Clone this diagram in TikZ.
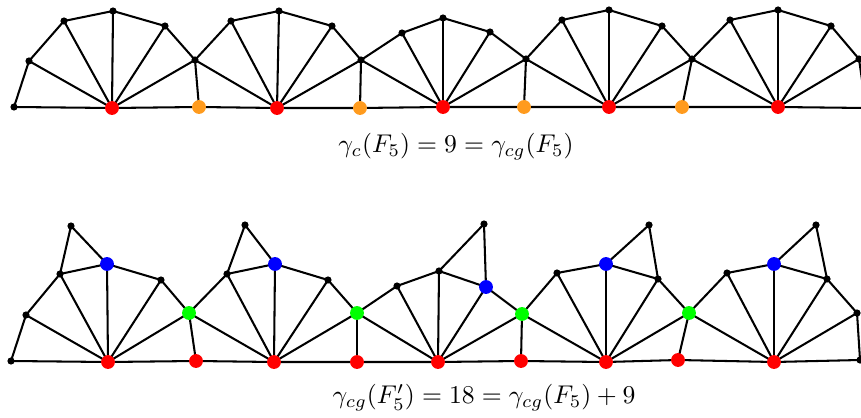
\documentclass[tikz,border=0pt]{standalone}
\usetikzlibrary{backgrounds}
\definecolor{myred}{RGB}{255,0,0}
\definecolor{myorange}{RGB}{255,155,30}
\definecolor{mygreen}{RGB}{0,255,0}
\definecolor{myblue}{RGB}{0,0,255}
\begin{document}
\begin{tikzpicture}[x=0.39pt,y=-0.39pt,
  bdot/.style={circle,fill=black,inner sep=0pt,minimum size=2.8pt},
  cdot/.style={circle,fill=#1,inner sep=0pt,minimum size=5.4pt},
  edge/.style={line width=0.8pt,black}]
\useasboundingbox (0,0) rectangle (861,417);
\clip (0,0) rectangle (861,417);
% ---------- top graph ----------
\foreach \n/\x/\y in {a0/14/107,a1/29/61,a2/64/21,a3/113/11,a4/165/26,j1/195/60,
  b1/231/21,b2/279/11,b3/332/26,j2/361/60,c1/402/33,c2/443/18,c3/490/32,j3/526/59,
  d1/562/20,d2/609/10,d3/662/26,j4/692/59,e1/730/20,e2/778/10,e3/831/26,j5/859/59,z/866/108}
  \node[bdot] (\n) at (\x,\y) {};
\foreach \n/\x/\y in {r1/112/108,r2/277/108,r3/443/107,r4/609/107,r5/778/107}
  \node[cdot=myred] (\n) at (\x,\y) {};
\foreach \n/\x/\y in {o1/199/107,o2/360/108,o3/524/107,o4/682/107}
  \node[cdot=myorange] (\n) at (\x,\y) {};
% ---------- bottom graph ----------
\foreach \n/\x/\y in {A0/11/361,A1/26/315,A2/60/274,AX/71/226,A4/161/280,
  B1/227/274,BX/245/225,B3/328/280,C1/397/286,C2/439/271,CX/484/224,
  D1/557/273,DX/649/225,D3/658/279,E1/727/273,EX/816/225,E3/827/279,E4/857/313,Z/860/360}
  \node[bdot] (\n) at (\x,\y) {};
\foreach \n/\x/\y in {AB/107/264,BB/275/264,CB/486/287,DB/606/264,EB/774/264}
  \node[cdot=myblue] (\n) at (\x,\y) {};
\foreach \n/\x/\y in {G1/189/313,G2/357/313,G3/522/314,G4/689/313}
  \node[cdot=mygreen] (\n) at (\x,\y) {};
\foreach \n/\x/\y in {R1/108/362,R2/274/362,R3/438/362,R4/606/362,R5/774/362,
  Q1/196/361,Q2/357/362,Q3/521/361,Q4/678/360}
  \node[cdot=myred] (\n) at (\x,\y) {};
% ---------- labels ----------
\node (t1) at (456,147) {$\gamma_c(F_5)=9=\gamma_{cg}(F_5)$};
\node (t2) at (484,398) {$\gamma_{cg}(F'_5)=18=\gamma_{cg}(F_5)+9$};
% ---------- edges ----------
\begin{scope}[on background layer]
\draw[edge] (a0.center)--(a1.center)--(a2.center)--(a3.center)--(a4.center)--(j1.center)
  --(b1.center)--(b2.center)--(b3.center)--(j2.center)--(c1.center)--(c2.center)--(c3.center)
  --(j3.center)--(d1.center)--(d2.center)--(d3.center)--(j4.center)--(e1.center)--(e2.center)
  --(e3.center)--(j5.center)--(z.center);
\draw[edge] (a0.center)--(r1.center)--(o1.center)--(r2.center)--(o2.center)--(r3.center)
  --(o3.center)--(r4.center)--(o4.center)--(r5.center)--(z.center);
\foreach \c/\list in {r1/{a1,a2,a3,a4,j1},r2/{j1,b1,b2,b3,j2},r3/{j2,c1,c2,c3,j3},
  r4/{j3,d1,d2,d3,j4},r5/{j4,e1,e2,e3,j5}}
  \foreach \v in \list \draw[edge] (\c.center)--(\v.center);
\foreach \j/\o in {j1/o1,j2/o2,j3/o3,j4/o4} \draw[edge] (\j.center)--(\o.center);
%
\draw[edge] (A0.center)--(A1.center)--(A2.center)--(AB.center)--(A4.center)--(G1.center)
  --(B1.center)--(BB.center)--(B3.center)--(G2.center)--(C1.center)--(C2.center)--(CB.center)
  --(G3.center)--(D1.center)--(DB.center)--(D3.center)--(G4.center)--(E1.center)--(EB.center)
  --(E3.center)--(E4.center)--(Z.center);
\draw[edge] (A0.center)--(R1.center)--(Q1.center)--(R2.center)--(Q2.center)--(R3.center)
  --(Q3.center)--(R4.center)--(Q4.center)--(R5.center)--(Z.center);
\foreach \c/\list in {R1/{A1,A2,AB,A4,G1},R2/{G1,B1,BB,B3,G2},R3/{G2,C1,C2,CB,G3},
  R4/{G3,D1,DB,D3,G4},R5/{G4,E1,EB,E3,E4}}
  \foreach \v in \list \draw[edge] (\c.center)--(\v.center);
\foreach \p/\q in {AX/A2,AX/AB,BX/B1,BX/BB,CX/C2,CX/CB,DX/DB,DX/D3,EX/EB,EX/E3,
  G1/Q1,G2/Q2,G3/Q3,G4/Q4}
  \draw[edge] (\p.center)--(\q.center);
\end{scope}
\end{tikzpicture}
\end{document}
